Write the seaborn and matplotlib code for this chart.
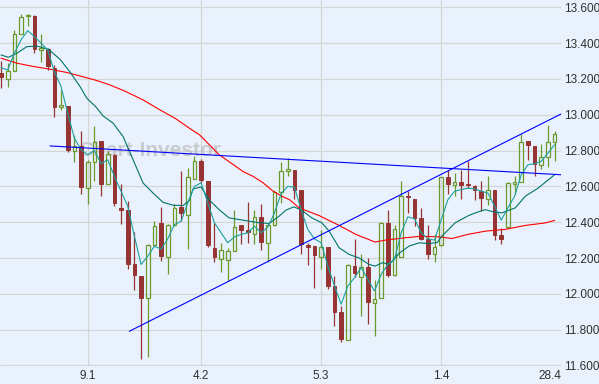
import numpy as np
import pandas as pd
import seaborn as sns
import matplotlib.pyplot as plt
import matplotlib.transforms as mtransforms

# Daily candles (open, high, low, close)
opens = [13.235, 13.20, 13.245, 13.45, 13.553, 13.552, 13.362, 13.366, 13.26, 13.041,
         13.05, 12.80, 12.823, 12.59, 12.736, 12.855, 12.614, 12.777, 12.48, 12.47,
         12.164, 12.10, 11.975, 12.272, 12.393, 12.207, 12.384, 12.486, 12.443, 12.642,
         12.74, 12.632, 12.257, 12.196, 12.187, 12.242, 12.382, 12.356, 12.335, 12.43,
         12.285, 12.382, 12.567, 12.684, 12.693, 12.582, 12.27, 12.267, 12.205, 12.261,
         12.044, 11.90, 11.743, 12.155, 12.094, 12.15, 11.951, 11.979, 12.393, 12.103,
         12.207, 12.549, 12.532, 12.424, 12.307, 12.22, 12.27, 12.65, 12.607, 12.625,
         12.616, 12.605, 12.577, 12.53, 12.582, 12.326, 12.374, 12.613, 12.625, 12.853,
         12.827, 12.72, 12.764, 12.848]
highs = [13.30, 13.29, 13.474, 13.561, 13.561, 13.555, 13.451, 13.371, 13.279, 13.139,
         13.05, 12.888, 12.91, 12.745, 12.935, 12.855, 12.795, 12.78, 12.614, 12.52,
         12.345, 12.10, 12.276, 12.405, 12.486, 12.39, 12.50, 12.684, 12.70, 12.772,
         12.753, 12.632, 12.393, 12.285, 12.257, 12.47, 12.382, 12.512, 12.467, 12.504,
         12.393, 12.582, 12.736, 12.758, 12.693, 12.582, 12.285, 12.267, 12.354, 12.261,
         12.10, 11.933, 12.165, 12.309, 12.22, 12.198, 12.08, 12.40, 12.467, 12.382,
         12.628, 12.573, 12.532, 12.48, 12.387, 12.332, 12.652, 12.693, 12.675, 12.693,
         12.74, 12.61, 12.628, 12.656, 12.582, 12.37, 12.625, 12.66, 12.892, 12.855,
         12.827, 12.839, 12.944, 12.911]
lows = [13.15, 13.155, 13.245, 13.45, 13.496, 13.347, 13.297, 13.25, 12.99, 13.024,
        12.79, 12.734, 12.56, 12.50, 12.628, 12.545, 12.614, 12.49, 12.39, 12.136,
        12.02, 11.635, 11.648, 12.266, 12.183, 12.11, 12.38, 12.405, 12.25, 12.64,
        12.62, 12.263, 12.177, 12.122, 12.07, 12.24, 12.276, 12.285, 12.276, 12.244,
        12.18, 12.38, 12.508, 12.66, 12.53, 12.22, 12.159, 12.033, 12.14, 12.025,
        11.82, 11.732, 11.74, 12.096, 11.877, 11.83, 11.762, 11.975, 12.094, 12.10,
        12.205, 12.452, 12.378, 12.30, 12.196, 12.18, 12.268, 12.558, 12.548, 12.53,
        12.59, 12.523, 12.46, 12.498, 12.30, 12.276, 12.372, 12.56, 12.625, 12.749,
        12.656, 12.698, 12.71, 12.74]
closes = [13.21, 13.245, 13.45, 13.548, 13.555, 13.366, 13.371, 13.27, 13.046, 13.054,
          12.805, 12.823, 12.597, 12.736, 12.85, 12.614, 12.78, 12.508, 12.47, 12.164,
          12.105, 11.975, 12.272, 12.378, 12.21, 12.384, 12.48, 12.452, 12.65, 12.74,
          12.634, 12.27, 12.205, 12.244, 12.242, 12.374, 12.354, 12.345, 12.43, 12.289,
          12.382, 12.567, 12.684, 12.697, 12.582, 12.276, 12.263, 12.215, 12.261, 12.044,
          11.90, 11.75, 12.16, 12.114, 12.148, 11.955, 11.973, 12.396, 12.103, 12.363,
          12.549, 12.541, 12.424, 12.307, 12.22, 12.263, 12.65, 12.614, 12.623, 12.61,
          12.61, 12.582, 12.536, 12.578, 12.328, 12.307, 12.62, 12.623, 12.848, 12.829,
          12.727, 12.764, 12.846, 12.892]

# Short moving average (light teal), one value per candle
fast_ma = [13.264, 13.25, 13.343, 13.418, 13.47, 13.437, 13.40, 13.362, 13.241, 13.158,
           13.009, 12.87, 12.805, 12.777, 12.80, 12.727, 12.749, 12.656, 12.573, 12.49,
           12.322, 12.164, 12.21, 12.266, 12.25, 12.307, 12.387, 12.405, 12.508, 12.60,
           12.62, 12.508, 12.397, 12.341, 12.285, 12.318, 12.332, 12.341, 12.378, 12.341,
           12.372, 12.452, 12.56, 12.60, 12.595, 12.47, 12.359, 12.307, 12.285, 12.155,
           12.044, 11.942, 12.044, 12.09, 12.146, 12.081, 12.016, 12.109, 12.164, 12.192,
           12.341, 12.43, 12.419, 12.341, 12.307, 12.30, 12.415, 12.526, 12.573, 12.582,
           12.59, 12.586, 12.573, 12.563, 12.49, 12.412, 12.48, 12.545, 12.665, 12.721,
           12.727, 12.74, 12.786, 12.833]

# Medium moving average (dark teal), sampled along the line
mid_ma_x = [0, 1.1, 2.35, 3.85, 5.35, 7.1, 8.85, 10.3, 11.85, 12.85, 14.25, 15.3, 16.8,
            18.3, 19.8, 21.3, 22.8, 24.3, 25.8, 27.3, 28.2, 28.8, 30, 31.2, 32.7, 34.2,
            35.7, 37.2, 38.7, 40.2, 41.7, 42.7, 43.9, 45.1, 46.6, 48.1, 49.2, 50.7, 52.2,
            53.7, 55.2, 56.1, 57.2, 58.2, 59.8, 61.2, 62.7, 64.2, 65.4, 66.1, 68.1, 70.1,
            71.1, 72.6, 73.6, 75.1, 77.1, 78.6, 80.5, 83.0]
mid_ma = [13.334, 13.321, 13.343, 13.38, 13.384, 13.366, 13.31, 13.241, 13.158, 13.093,
          13.043, 12.994, 12.953, 12.879, 12.749, 12.619, 12.563, 12.511, 12.495, 12.493,
          12.52, 12.586, 12.597, 12.526, 12.47, 12.424, 12.415, 12.406, 12.397, 12.393,
          12.434, 12.467, 12.486, 12.467, 12.424, 12.397, 12.35, 12.257, 12.22, 12.20,
          12.164, 12.155, 12.174, 12.164, 12.23, 12.267, 12.285, 12.281, 12.287, 12.322,
          12.397, 12.437, 12.452, 12.47, 12.46, 12.452, 12.48, 12.545, 12.59, 12.665]

# Long moving average (red), sampled along the line
slow_ma_x = [0, 2.4, 4.8, 7.3, 9.9, 11.8, 14.2, 16.3, 18.7, 21.3, 23.8, 26.2, 28.2, 29.8,
             32.7, 36.3, 37.8, 39.3, 40.8, 42.1, 43.3, 44.7, 47.7, 50.7, 53.2, 56.1, 57.6,
             60.6, 63.1, 65.7, 67.6, 70.0, 72.6, 75.6, 78.6, 81.6, 83.0]
slow_ma = [13.316, 13.288, 13.27, 13.255, 13.236, 13.217, 13.193, 13.167, 13.13, 13.083,
           13.028, 12.978, 12.926, 12.887, 12.777, 12.683, 12.656, 12.62, 12.573, 12.545,
           12.525, 12.48, 12.437, 12.382, 12.332, 12.289, 12.30, 12.313, 12.322, 12.318,
           12.309, 12.332, 12.35, 12.36, 12.382, 12.396, 12.41]

# Hand-drawn trend lines (two end points each)
flat_line_x = [7.35, 84.0]
flat_line_y = [12.826, 12.665]
rise_line_x = [19.24, 84.0]
rise_line_y = [11.791, 13.005]

# Date labels on the time axis
date_labels = ["9.1", "4.2", "5.3", "1.4", "28.4"]
date_idx = [13, 30, 48, 66, 83]
price_ticks = np.round(np.arange(11.6, 13.61, 0.2), 1)

bg = "#E9F2FC"
up_col = "#6B9A2C"
down_col = "#963333"

sns.set_theme(style="white", rc={"axes.facecolor": bg, "figure.facecolor": bg})
plt.rcParams["font.family"] = ["Liberation Sans", "DejaVu Sans"]

fig = plt.figure(figsize=(5.99, 3.84), dpi=100)
ax = fig.add_axes([0, 18 / 384, 561 / 599, 366 / 384])

df = pd.DataFrame({"open": opens, "high": highs, "low": lows, "close": closes})
df["idx"] = np.arange(len(df))
up = df[df["close"] >= df["open"]]
down = df[df["close"] < df["open"]]

# grid
for p in price_ticks:
    ax.axhline(p, color="#D5D5D5", lw=0.9, zorder=0)
for i in date_idx[:-1]:
    ax.axvline(i, color="#D5D5D5", lw=0.9, zorder=0)

# wicks
ax.vlines(down["idx"], down["low"], down["high"], color=down_col, lw=0.9, zorder=2)
ax.vlines(up["idx"], up["low"], up["open"], color=up_col, lw=0.9, zorder=2)
ax.vlines(up["idx"], up["close"], up["high"], color=up_col, lw=0.9, zorder=2)

# bodies
ax.bar(down["idx"], down["open"] - down["close"], bottom=down["close"], width=0.55,
       color=down_col, edgecolor=down_col, lw=0.7, zorder=3)
ax.bar(up["idx"], np.maximum(up["close"] - up["open"], 0.004), bottom=up["open"],
       width=0.55, facecolor="none", edgecolor=up_col, lw=0.9, zorder=3)

# moving averages
sns.lineplot(x=slow_ma_x, y=slow_ma, ax=ax, color="#FF0000", lw=0.8, estimator=None, sort=False, zorder=4)
sns.lineplot(x=mid_ma_x, y=mid_ma, ax=ax, color="#007468", lw=0.8, estimator=None, sort=False, zorder=4)
sns.lineplot(x=df["idx"], y=fast_ma, ax=ax, color="#1BA0A0", lw=0.8, estimator=None, sort=False, zorder=4)

# trend lines
sns.lineplot(x=flat_line_x, y=flat_line_y, ax=ax, color="#0000FF", lw=0.8, estimator=None, sort=False, zorder=5)
sns.lineplot(x=rise_line_x, y=rise_line_y, ax=ax, color="#0000FF", lw=0.8, estimator=None, sort=False, zorder=5)

# watermark
ax.text(0.267, 0.59, "Chart-Investor", transform=ax.transAxes, ha="center", va="center",
        fontsize=15, fontweight="bold", color="#B8B8B8", alpha=0.65, zorder=1)

ax.set_xlim(-0.15, 83.96)
ax.set_ylim(11.597, 13.641)
ax.yaxis.tick_right()
ax.set_yticks(price_ticks)
ax.set_yticklabels([f"{p:.3f}" for p in price_ticks])
ax.set_xticks(date_idx)
ax.set_xticklabels(date_labels)
ax.tick_params(axis="y", length=0, pad=2, labelsize=8.5, labelcolor="#303030")
ax.tick_params(axis="x", length=0, pad=3, labelsize=8.5, labelcolor="#303030")
last = ax.get_xticklabels()[-1]
last.set_transform(last.get_transform() + mtransforms.ScaledTranslation(-5 / 100, 0, fig.dpi_scale_trans))
for s in ax.spines.values():
    s.set_visible(False)
ax.set_xlabel("")
ax.set_ylabel("")

fig.savefig("out.png", dpi=100, facecolor=bg)
